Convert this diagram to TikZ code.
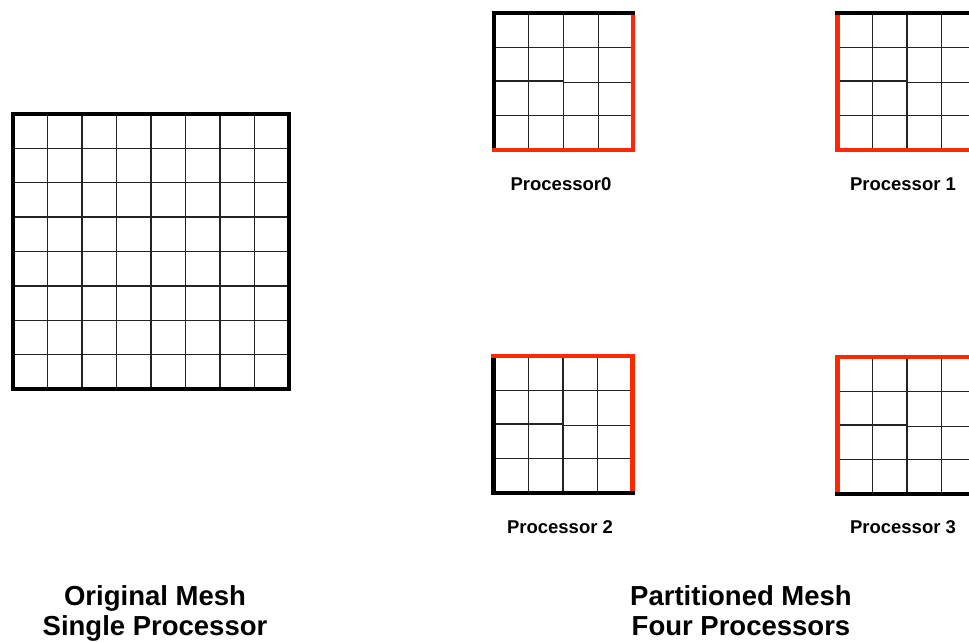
\documentclass[tikz,border=0pt]{standalone}
\usepackage{fontspec}
\setmainfont{Liberation Sans}
\definecolor{partred}{RGB}{255,40,0}
\definecolor{gridgray}{RGB}{35,35,35}
\newcommand\smallmesh[6]{%
  \begin{scope}[shift={(#1,#2)}]
    \foreach \i in {1,2,3} {
      \draw[gridline] ({\i*34.75},0) -- ({\i*34.75},137);
    }
    \draw[gridline] (0,34.25) -- (139,34.25);
    \draw[gridline] (0,102.75) -- (139,102.75);
    \draw[gridline] (0,67.8) -- (69.5,67.8) -- (69.5,69.2) -- (139,69.2);
    \draw[border,#6] (0,0) -- (0,137);
    \draw[border,#4] (139,0) -- (139,137);
    \draw[border,#3] (0,0) -- (139,0);
    \draw[border,#5] (0,137) -- (139,137);
  \end{scope}%
}
\begin{document}
\begin{tikzpicture}[x=1pt,y=-1pt,
  gridline/.style={line width=1.4pt, draw=gridgray},
  border/.style={line width=4.2pt, line cap=rect},
  proclabel/.style={font=\fontsize{18.5}{21}\selectfont\bfseries, inner sep=0pt},
  title/.style={font=\fontsize{27.5}{30}\selectfont\bfseries, align=center, inner sep=0pt, anchor=north}]
\useasboundingbox (0,0) rectangle (969,641);
\clip (0,0) rectangle (969,641);
% original mesh
\foreach \i in {1,...,7} {
  \draw[gridline] ({13+\i*34.5},114) -- ({13+\i*34.5},389);
  \draw[gridline] (13,{114+\i*34.375}) -- (289,{114+\i*34.375});
}
\draw[border] (13,114) rectangle (289,389);
% partitioned meshes: x, y, top, right, bottom, left
\smallmesh{494}{13}{black}{partred}{partred}{black}
\smallmesh{837.5}{13}{black}{partred}{partred}{partred}
\smallmesh{493.5}{356}{partred}{partred}{black}{black}
\smallmesh{837.5}{357}{partred}{partred}{black}{partred}
% labels
\node[proclabel] (p0) at (561,184) {Processor0};
\node[proclabel] (p1) at (903,184) {Processor 1};
\node[proclabel] (p2) at (560,527) {Processor 2};
\node[proclabel] (p3) at (903,527) {Processor 3};
\node[title] (orig) at (155,585) {Original Mesh\\Single Processor};
\node[title] (part) at (741,585) {Partitioned Mesh\\Four Processors};
\end{tikzpicture}
\end{document}
